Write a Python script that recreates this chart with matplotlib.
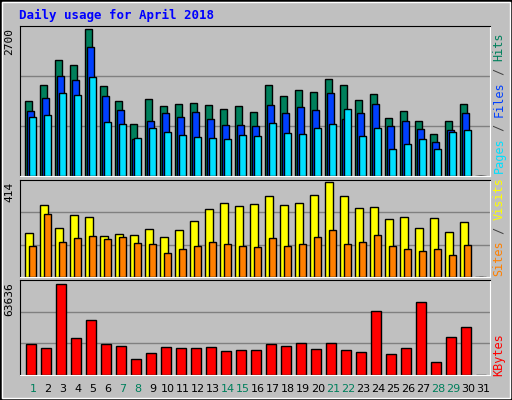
import matplotlib
matplotlib.use("Agg")
import matplotlib.pyplot as plt
from matplotlib.patches import Rectangle
import numpy as np

days = np.arange(1, 32)
weekend = [1, 7, 8, 14, 15, 21, 22, 28, 29]

# Values (day 31 has no data)
hits = [1350, 1632, 2082, 1992, 2640, 1614, 1350, 930, 1380, 1254, 1290, 1308, 1272, 1200, 1254,
        1146, 1632, 1434, 1542, 1506, 1740, 1632, 1362, 1470, 1038, 1164, 984, 750, 984, 1290, 0]
files = [1164, 1398, 1794, 1722, 2316, 1434, 1182, 660, 984, 1128, 1056, 1146, 1020, 912, 912,
         894, 1272, 1128, 1236, 1182, 1488, 1020, 1128, 1290, 894, 984, 840, 606, 822, 1128, 0]
pages = [1056, 1092, 1488, 1452, 1776, 966, 930, 678, 858, 786, 732, 696, 678, 660, 732,
         714, 948, 768, 750, 858, 930, 1200, 714, 858, 480, 570, 660, 480, 786, 822, 0]
visits = [189, 307, 211, 263, 255, 176, 184, 180, 206, 171, 202, 237, 290, 316, 303,
          312, 347, 307, 316, 351, 404, 347, 294, 298, 246, 255, 211, 250, 193, 233, 0]
sites = [132, 268, 149, 167, 176, 162, 171, 145, 140, 101, 119, 132, 149, 140, 132,
         127, 167, 132, 140, 171, 202, 140, 149, 180, 132, 119, 110, 119, 92, 136, 0]
kbytes = [21200, 18470, 62260, 25310, 37620, 21200, 19840, 10940, 15050, 19150, 18470, 18470,
          19150, 16420, 17100, 17100, 21200, 19840, 21890, 17780, 21890, 17100, 15730, 43780,
          14360, 18470, 49930, 8890, 25990, 32830, 0]

W, H = 512, 400
bg = "#C0C0C0"
fig = plt.figure(figsize=(W / 100, H / 100), dpi=100, facecolor=bg)
fig.patches.append(Rectangle((0, 0), 1, 1, transform=fig.transFigure, fill=False,
                             edgecolor="black", linewidth=2))
fig.patches.append(Rectangle((2 / W, 2 / H), 1 - 4 / W, 1 - 4 / H, transform=fig.transFigure,
                             fill=False, edgecolor="white", linewidth=1))

mono = "DejaVu Sans Mono"


def panel(top, bottom, ymax, label):
    ax = fig.add_axes([20 / W, (H - bottom) / H, 470 / W, (bottom - top) / H], facecolor=bg)
    ax.set_xlim(-0.333, 31)
    ax.set_ylim(0, ymax)
    for g in (ymax / 3, 2 * ymax / 3):
        ax.axhline(g, color="#808080", linewidth=1, zorder=0)
    ax.set_xticks([])
    ax.set_yticks([])
    for s in ax.spines.values():
        s.set_color("black")
    ax.spines["right"].set_color("white")
    ax.spines["bottom"].set_color("white")
    fig.text(9 / W, (H - top - 2) / H, label, rotation=90, ha="center", va="top",
             fontsize=8, family=mono)
    return ax


def side_label(bottom, parts):
    y = bottom
    for text, col in parts:
        fig.text(499 / W, (H - y) / H, text, rotation=90, ha="center", va="bottom",
                 fontsize=8.5, family=mono, color=col)
        y -= len(text) * 7


x = days - 1
ek = dict(edgecolor="black", linewidth=1, align="edge")

ax1 = panel(26, 176, 2700, "2700")
ax1.bar(x, hits, 0.47, color="#00805C", **ek)
ax1.bar(x + 0.13, files, 0.47, color="#0040FF", **ek)
ax1.bar(x + 0.27, pages, 0.47, color="#00E0FF", **ek)
side_label(173, [("Pages", "#00E0FF"), (" / ", "#404040"), ("Files", "#0040FF"),
                 (" / ", "#404040"), ("Hits", "#00805C")])

ax2 = panel(180, 277, 414 * 283 / 283, "414")
ax2.bar(x, visits, 0.53, color="#FFFF00", **ek)
ax2.bar(x + 0.27, sites, 0.47, color="#FF8000", **ek)
side_label(276, [("Sites", "#FF8000"), (" / ", "#404040"), ("Visits", "#FFFF00")])

ax3 = panel(280, 375, 63636 * 1.02, "63636")
ax3.bar(x + 0.07, kbytes, 0.67, color="#FF0000", **ek)
side_label(376, [("KBytes", "#FF0000")])

for d in days:
    fig.text((25 + 15 * (d - 1) + 8) / W, (H - 389) / H, str(d), ha="center", va="center",
             fontsize=8, color="#00805C" if d in weekend else "black")

fig.text(19 / W, (H - 15) / H, "Daily usage for April 2018", ha="left", va="center",
         fontsize=9, family=mono, fontweight="bold", color="#0000FF")

fig.savefig("out.png", dpi=100, facecolor=bg)
